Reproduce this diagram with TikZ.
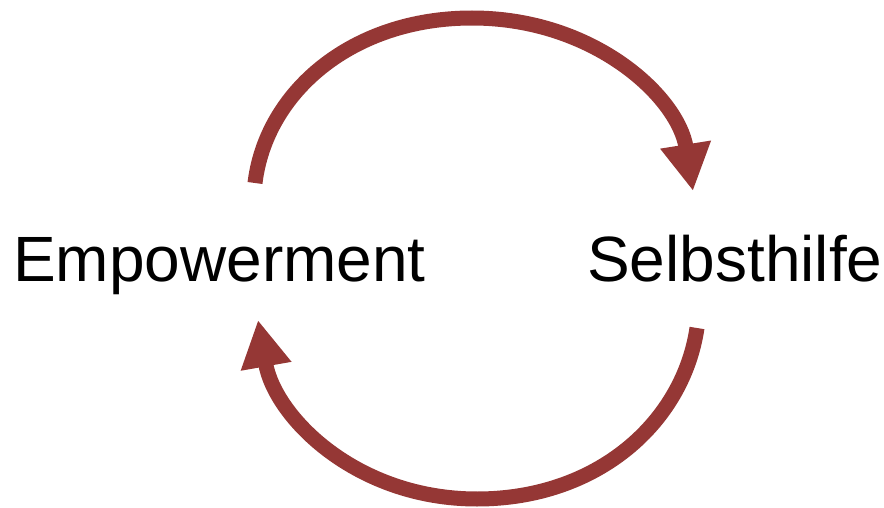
\documentclass[tikz,border=0pt]{standalone}
\usepackage{fontspec}
\setmainfont{Liberation Sans}
\usepackage{xcolor}
\usetikzlibrary{arrows.meta}
\definecolor{cycred}{RGB}{149,55,53}
\tikzset{>={Triangle[length=47pt,width=48pt]}}
\tikzset{cycarrow/.style={draw=cycred,fill=none,line width=15pt,->,cycred}}
\tikzset{word/.style={anchor=base west,inner sep=0pt,font=\fontsize{64}{70}\selectfont}}

\begin{document}
\begin{tikzpicture}[x=1pt,y=-1pt]
  \useasboundingbox (0,0) rectangle (884,508);
  % Words
  \node[word] (emp) at (13,281) {Empowerment};
  \node[word] (selbst) at (587,281) {Selbsthilfe};
  % Ends of the arrows
  \coordinate (topstart) at (255,183);
  \coordinate (toptop) at (472,18);
  \coordinate (toptip) at (693,191);
  \coordinate (botstart) at (697,328);
  \coordinate (botbot) at (477,499);
  \coordinate (bottip) at (258,320);
  % Arrows
  \draw[cycarrow] (topstart) .. controls (266,92) and (352,18) .. (toptop)
    .. controls (594,18) and (678,97) .. (toptip);
  \draw[cycarrow] (botstart) .. controls (683,422) and (598,499) .. (botbot)
    .. controls (356,499) and (275,417) .. (bottip);
\end{tikzpicture}
\end{document}
